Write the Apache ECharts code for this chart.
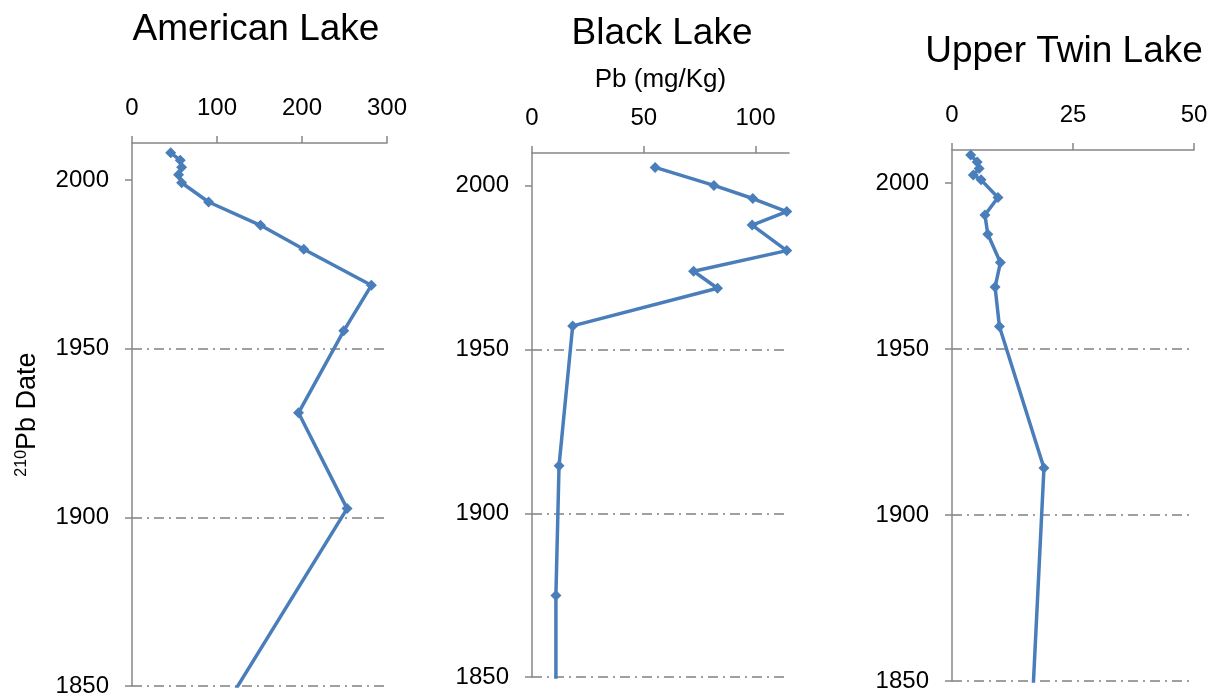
<!DOCTYPE html>
<html>
<head>
<meta charset="utf-8">
<script src="https://cdn.jsdelivr.net/npm/echarts@6/dist/echarts.min.js"></script>
<style>
  html, body { margin: 0; padding: 0; background: #fff; }
  #chart { width: 1214px; height: 698px; }
</style>
</head>
<body>
<div id="chart"></div>
<script>
// Lead concentration profiles (Pb, mg/Kg) against 210Pb-dated sediment depth
const lakeNames = ['American Lake', 'Black Lake', 'Upper Twin Lake'];

const americanYears = [2008.1, 2005.9, 2003.8, 2001.6, 1999.2, 1993.5, 1986.6, 1979.5, 1968.8, 1955.3, 1931.0, 1902.6, 1840];
const americanPb    = [45.5, 56.8, 58.4, 54.8, 58.4, 90.1, 151.2, 202.1, 281.6, 249.1, 195.9, 253.0, 100];

const blackYears = [2005.6, 2000.1, 1996.1, 1992.1, 1988.0, 1980.2, 1973.9, 1968.7, 1957.2, 1914.5, 1874.9, 1840];
const blackPb    = [55.1, 81.4, 98.8, 114.0, 98.5, 114.0, 72.3, 83.0, 18.2, 12.1, 10.7, 10.7];

const twinYears = [2008.5, 2006.4, 2004.4, 2002.5, 2001.0, 1995.7, 1990.4, 1984.6, 1976.1, 1968.7, 1956.8, 1914.2, 1840];
const twinPb    = [3.86, 5.2, 5.6, 4.4, 6.0, 9.5, 6.8, 7.4, 10.0, 8.9, 9.8, 19.0, 16.5];

const xMax = [300, 115, 50];
const xInterval = [100, 50, 25];
const yMax = [2011, 2010, 2010];
const yearTicks = [1850, 1900, 1950, 2000];

const FONT = '"Liberation Sans", Arial, sans-serif';
const AXIS_GRAY = '#878787';
const LINE_BLUE = '#4a7ebb';

const grids = [
  { left: 132, top: 143, width: 255, height: 543 },
  { left: 532, top: 153, width: 257, height: 524 },
  { left: 952, top: 150, width: 242, height: 531 }
];

const titleCenters = [251, 657, 1059];
const titleTops = [6, 10, 28];

function pairs(xs, ys) {
  return xs.map((v, i) => [v, ys[i]]);
}
const seriesData = [
  pairs(americanPb, americanYears),
  pairs(blackPb, blackYears),
  pairs(twinPb, twinYears)
];

const option = {
  backgroundColor: '#ffffff',
  animation: false,
  title: lakeNames.map((name, i) => ({
    text: name,
    left: titleCenters[i],
    top: titleTops[i],
    textAlign: 'center',
    textStyle: { fontFamily: FONT, fontSize: 37, fontWeight: 'normal', color: '#000' }
  })),
  grid: grids.map(g => Object.assign({ containLabel: false }, g)),
  xAxis: grids.map((g, i) => ({
    type: 'value',
    gridIndex: i,
    position: 'top',
    min: 0,
    max: xMax[i],
    interval: xInterval[i],
    name: i === 1 ? 'Pb (mg/Kg)' : '',
    nameLocation: 'middle',
    nameGap: 60,
    nameTextStyle: { fontFamily: FONT, fontSize: 26, color: '#000' },
    axisLine: { show: true, lineStyle: { color: AXIS_GRAY, width: 1.5 } },
    axisTick: { show: true, inside: false, length: 7, lineStyle: { color: AXIS_GRAY, width: 1.5 } },
    axisLabel: { show: true, margin: 23, showMaxLabel: xMax[i] % xInterval[i] === 0, fontFamily: FONT, fontSize: 24, color: '#000' },
    splitLine: { show: false }
  })),
  yAxis: grids.map((g, i) => ({
    type: 'value',
    gridIndex: i,
    min: 1850,
    max: yMax[i],
    interval: 50,
    name: i === 0 ? '{sup|210}{main|Pb Date}' : '',
    nameLocation: 'middle',
    nameRotate: 90,
    nameGap: 90,
    nameTextStyle: {
      fontFamily: FONT,
      color: '#000',
      rich: {
        sup: { fontFamily: FONT, fontSize: 16, color: '#000', padding: [0, 0, 12, 0] },
        main: { fontFamily: FONT, fontSize: 27, color: '#000' }
      }
    },
    axisLine: { show: true, lineStyle: { color: AXIS_GRAY, width: 1.5 } },
    axisTick: { show: true, inside: false, length: 7, customValues: yearTicks, lineStyle: { color: AXIS_GRAY, width: 1.5 } },
    axisLabel: {
      show: true,
      margin: 23,
      customValues: yearTicks,
      formatter: v => String(v),
      fontFamily: FONT,
      fontSize: 24,
      color: '#000'
    },
    splitLine: {
      show: true,
      showMinLine: true,
      showMaxLine: false,
      lineStyle: { color: '#808080', width: 1.5, type: [10, 5, 2, 5] }
    }
  })),
  series: seriesData.map((data, i) => ({
    type: 'line',
    xAxisIndex: i,
    yAxisIndex: i,
    data: data,
    clip: true,
    symbol: 'diamond',
    symbolSize: 11,
    showSymbol: true,
    lineStyle: { color: LINE_BLUE, width: 3.5 },
    itemStyle: { color: LINE_BLUE },
    emphasis: { disabled: true }
  }))
};

const chart = echarts.init(document.getElementById('chart'), null, { renderer: 'canvas' });
chart.setOption(option);
</script>
</body>
</html>
